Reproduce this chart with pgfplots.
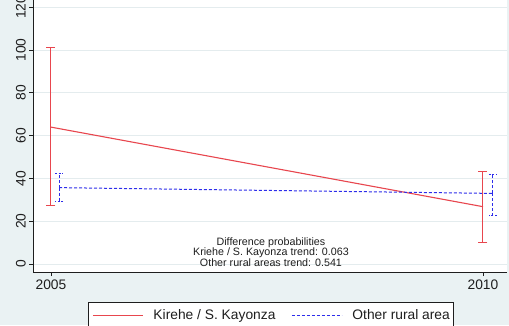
\documentclass[border=0pt]{standalone}
\usepackage{pgfplots}
\pgfplotsset{compat=1.18}
\usepackage{fontspec}
\setmainfont{Liberation Sans}

\definecolor{stbg}{RGB}{234,242,243}
\definecolor{stgrid}{RGB}{228,236,238}
\definecolor{stred}{RGB}{232,70,78}
\definecolor{stblue}{RGB}{45,45,235}
\definecolor{sttext}{RGB}{30,30,30}

\begin{document}
\begin{tikzpicture}
\useasboundingbox (0pt,0pt) rectangle (509pt,325pt);
\clip (0pt,0pt) rectangle (509pt,325pt);
\fill[stbg] (0pt,0pt) rectangle (509pt,325pt);
\begin{axis}[
  at={(33pt,53pt)}, anchor=south west,
  scale only axis, width=474pt, height=277.5pt,
  xmin=2004.792, xmax=2010.278, ymin=-3.74, ymax=126,
  axis lines=left,
  axis line style={-, sttext, line width=0.9pt},
  axis background/.style={fill=white},
  tick align=outside,
  major tick length=4pt,
  tick style={sttext, line width=0.9pt},
  xtick={2005,2010}, ytick={0,20,40,60,80,100,120},
  /pgf/number format/assume math mode=true,
  xticklabel style={/pgf/number format/1000 sep={}},
  ticklabel style={font=\fontsize{13.8}{16}\selectfont, text=sttext},
  yticklabel style={rotate=90, anchor=south, inner sep=3pt},
  ymajorgrids,
  major grid style={stgrid, line width=0.8pt},
  clip=false,
  legend columns=2,
  legend style={
    at={(0.116,-0.1081)}, anchor=north west,
    draw=sttext, line width=0.8pt, fill=white,
    font=\fontsize{13.8}{16}\selectfont, text=sttext,
    inner xsep=4pt, inner ysep=7pt,
    nodes={inner sep=0pt},
    /tikz/every odd column/.append style={column sep=10pt},
    /tikz/every even column/.append style={column sep=16pt},
  },
]
% Kirehe / S. Kayonza: means with confidence intervals
\addplot[stred, line width=1.1pt, mark=none,
  legend image code/.code={\draw[stred, line width=1.1pt] (0pt,0pt) -- (50pt,0pt);},
  error bars/.cd, y dir=both, y explicit,
  error bar style={stred, line width=1.0pt, solid},
  error mark options={rotate=90, stred, mark size=4.5pt, line width=1.0pt}]
  coordinates {
    (2005,64.0) += (0,37.0) -= (0,36.5)
    (2010,26.8) += (0,16.3) -= (0,16.8)
  };
\addlegendentry{Kirehe / S. Kayonza}
% Other rural areas, shifted slightly to the right
\addplot[stblue, line width=1.0pt, dash pattern=on 3pt off 2pt, mark=none,
  legend image code/.code={\draw[stblue, line width=1.0pt, dash pattern=on 3pt off 2pt] (0pt,0pt) -- (50pt,0pt);},
  error bars/.cd, y dir=both, y explicit,
  error bar style={stblue, line width=1.0pt, dash pattern=on 3pt off 2pt},
  error mark options={rotate=90, stblue, mark size=4pt, line width=1.0pt, dash pattern=on 2pt off 1.5pt}]
  coordinates {
    (2005.093,35.7) += (0,6.7) -= (0,6.4)
    (2010.115,33.0) += (0,9.0) -= (0,10.1)
  };
\addlegendentry{Other rural area}
\node[align=center, font=\fontsize{10.7}{10.5}\selectfont, text=sttext]
  at (axis cs:2007.546,5.6)
  {Difference probabilities\\Kriehe / S. Kayonza trend: 0.063\\Other rural areas trend: 0.541};
\end{axis}
\end{tikzpicture}
\end{document}
